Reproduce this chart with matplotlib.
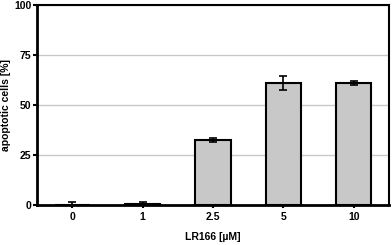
import numpy as np
import matplotlib.pyplot as plt

# LR166 concentrations and apoptotic cells (%)
categories = ["0", "1", "2.5", "5", "10"]
means = [0.0, 0.5, 32.5, 61.0, 61.0]
errors = [1.5, 1.2, 0.8, 3.5, 1.2]

plt.rcParams['font.family'] = ['Liberation Sans', 'DejaVu Sans']
plt.rcParams['font.weight'] = 'bold'

fig = plt.figure(figsize=(3.92, 2.45), dpi=100)
ax = fig.add_axes([37 / 392, 40 / 245, 352 / 392, 200 / 245])

x = np.arange(len(categories))
ax.bar(x, means, width=0.5, color='#c8c8c8', edgecolor='black', linewidth=1.5, zorder=3)
ax.errorbar(x, means, yerr=errors, fmt='none', ecolor='black', elinewidth=1.2,
            capsize=3, capthick=1.2, zorder=4)

ax.set_xlim(-0.5, len(categories) - 0.5)
ax.set_ylim(0, 100)
ax.set_yticks([0, 25, 50, 75, 100])
ax.yaxis.grid(True, color='#c8c8c8', linewidth=1)
ax.set_axisbelow(True)

ax.set_xticks(x)
ax.set_xticklabels(categories)
ax.tick_params(axis='both', labelsize=7.5, width=1.5, direction='out')
ax.tick_params(axis='y', length=3, pad=1)
ax.tick_params(axis='x', length=2, pad=3)

for side in ['left', 'bottom']:
    ax.spines[side].set_linewidth(2)
for side in ['top', 'right']:
    ax.spines[side].set_linewidth(1.5)

ax.set_ylabel("apoptotic cells [%]", fontsize=7.5, fontweight='bold', labelpad=2)
ax.set_xlabel("LR166 [µM]", fontsize=7.5, fontweight='bold', labelpad=7)

plt.savefig("out.png", dpi=100)
